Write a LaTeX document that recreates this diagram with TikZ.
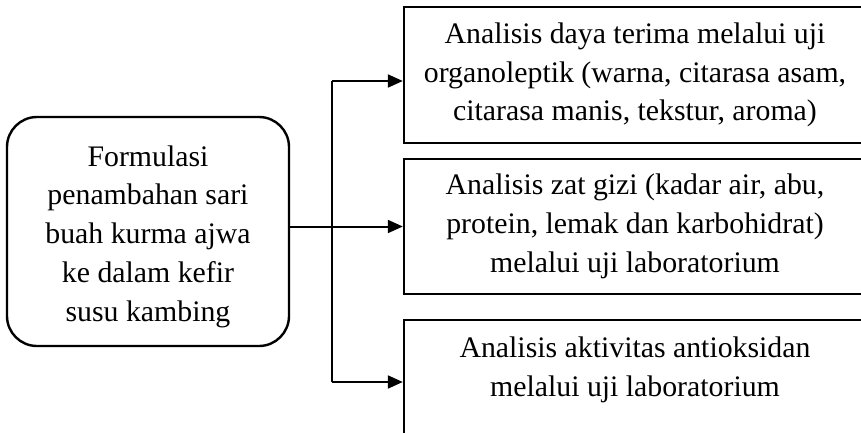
\documentclass[tikz,border=0pt]{standalone}
\usepackage{fontspec}
\setmainfont{Liberation Serif}
\usetikzlibrary{arrows.meta}
\begin{document}
\begin{tikzpicture}[x=0.5pt,y=-0.5pt,
    every node/.style={font=\fontsize{14.9}{19.4}\selectfont, align=center},
    startbox/.style={draw, line width=1.2pt, rounded corners=15pt,
      minimum width=141pt, minimum height=114.5pt, inner sep=0pt},
    stepbox/.style={draw, line width=1.2pt, minimum width=231pt, inner sep=0pt},
    arr/.style={line width=1pt, -{Triangle[length=7.5pt,width=6.5pt]}}]
  \useasboundingbox (0,0) rectangle (861,433);
  \clip (0,0) rectangle (861,433);
  % formulation
  \node[startbox, text height=93pt] (formula) at (148,231.5)
    {Formulasi\\penambahan sari\\buah kurma ajwa\\ke dalam kefir\\susu kambing};
  % analyses
  \node[stepbox, minimum height=68pt] (sensory) at (635,75)
    {Analisis daya terima melalui uji\\organoleptik (warna, citarasa asam,\\citarasa manis, tekstur, aroma)};
  \node[stepbox, minimum height=67.5pt] (nutrient) at (635,226.5)
    {Analisis zat gizi (kadar air, abu,\\protein, lemak dan karbohidrat)\\melalui uji laboratorium};
  \node[stepbox, anchor=north, inner ysep=8.5pt, text depth=24pt] (antiox) at (635,319)
    {Analisis aktivitas antioksidan\\melalui uji laboratorium};
  % connectors
  \coordinate (jtop) at (332,81);
  \coordinate (jbot) at (332,382);
  \draw[arr] (nutrient.west -| formula.east) -- (nutrient.west);
  \draw[line width=1pt] (jtop) -- (jbot);
  \draw[arr] (jtop) -- (jtop -| sensory.west);
  \draw[arr] (jbot) -- (jbot -| antiox.west);
\end{tikzpicture}
\end{document}
